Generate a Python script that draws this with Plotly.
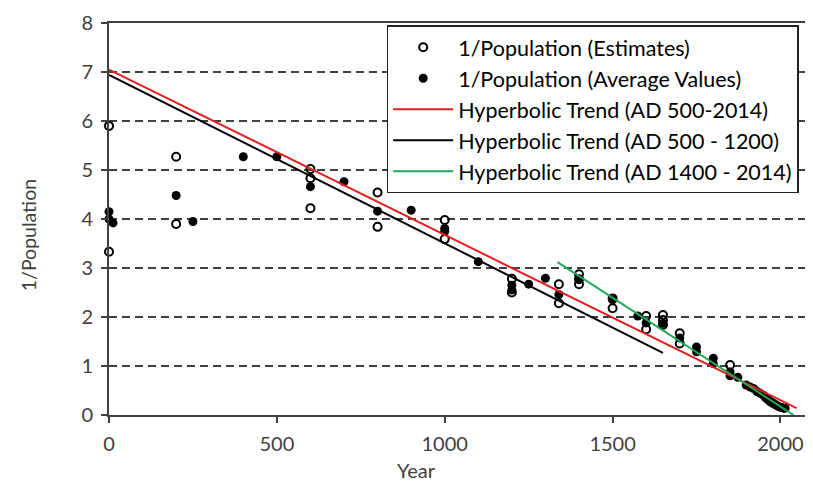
import plotly.graph_objects as go

# ---- data ----
est_year = [0, 0, 200, 200, 600, 600, 600, 800, 800, 1000, 1000, 1200, 1200,
            1340, 1340, 1400, 1400, 1400, 1500, 1500, 1600, 1600, 1650, 1650, 1650,
            1700, 1700, 1850]
est_val = [5.90, 3.33, 5.27, 3.90, 5.02, 4.83, 4.22, 4.54, 3.84, 3.98, 3.59, 2.78, 2.50,
           2.67, 2.28, 2.87, 2.77, 2.67, 2.38, 2.18, 2.02, 1.75, 2.04, 1.94, 1.84,
           1.67, 1.46, 1.02]

avg_year = [0, 0, 12, 200, 250, 400, 500, 600, 700, 800, 900, 1000, 1000, 1100,
            1200, 1200, 1250, 1300, 1340, 1400, 1500, 1575, 1600, 1650, 1700,
            1750, 1750, 1800, 1800, 1850, 1850, 1873, 1898,
            1910, 1920, 1930, 1940, 1950, 1955, 1960, 1965, 1970, 1975, 1980,
            1985, 1990, 1995, 2000, 2005, 2010, 2014]
avg_val = [4.15, 4.00, 3.92, 4.48, 3.95, 5.27, 5.27, 4.66, 4.76, 4.16, 4.18, 3.81, 3.75, 3.13,
           2.65, 2.55, 2.67, 2.79, 2.46, 2.77, 2.35, 2.02, 1.88, 1.87, 1.57,
           1.39, 1.29, 1.16, 1.05, 0.88, 0.80, 0.77, 0.61,
           0.57, 0.54, 0.48, 0.44, 0.40, 0.36, 0.33, 0.30, 0.27, 0.25, 0.23,
           0.21, 0.19, 0.17, 0.16, 0.15, 0.14, 0.14]

trend_all_x = [0, 2048]
trend_all_y = [7.05, 0.14]
trend_early_x = [0, 1650]
trend_early_y = [6.94, 1.27]
trend_late_x = [1336, 2039]
trend_late_y = [3.12, 0.0]

y_ticks = [0, 1, 2, 3, 4, 5, 6, 7, 8]
x_ticks = [0, 500, 1000, 1500, 2000]

x_title = "Year"
y_title = "1/Population"

FONT = "Lato"
AX = "#404040"

fig = go.Figure()
fig.add_trace(go.Scatter(x=est_year, y=est_val, mode="markers",
                         name="1/Population (Estimates)",
                         marker=dict(symbol="circle-open", size=8, color="black",
                                     line=dict(width=2, color="black")),
                         cliponaxis=False))
fig.add_trace(go.Scatter(x=avg_year, y=avg_val, mode="markers",
                         name="1/Population (Average Values)",
                         marker=dict(symbol="circle", size=9, color="black"),
                         cliponaxis=False))
fig.add_trace(go.Scatter(x=trend_all_x, y=trend_all_y, mode="lines",
                         name="Hyperbolic Trend (AD 500-2014)",
                         line=dict(color="#e0201e", width=2)))
fig.add_trace(go.Scatter(x=trend_early_x, y=trend_early_y, mode="lines",
                         name="Hyperbolic Trend (AD 500 - 1200)",
                         line=dict(color="black", width=2)))
fig.add_trace(go.Scatter(x=trend_late_x, y=trend_late_y, mode="lines",
                         name="Hyperbolic Trend (AD 1400 - 2014)",
                         line=dict(color="#21a85a", width=2)))

fig.update_layout(
    width=813, height=491,
    margin=dict(l=101, r=9, t=15, b=84, autoexpand=False),
    paper_bgcolor="white", plot_bgcolor="white",
    font=dict(family=FONT, size=20, color=AX),
    xaxis=dict(range=[0, 2094], tickvals=x_ticks, ticks="outside", ticklen=6,
               tickwidth=1.5, tickcolor=AX, showline=True, linecolor=AX, linewidth=2,
               mirror=True, showgrid=False, zeroline=False, automargin=False,
               ticklabelstandoff=4,
               tickfont=dict(size=20, color=AX)),
    yaxis=dict(range=[0, 8], tickvals=y_ticks, ticks="outside", ticklen=6,
               tickwidth=1.5, tickcolor=AX, showline=True, linecolor=AX, linewidth=2,
               mirror=True, showgrid=True, gridcolor="#404040", gridwidth=1.6,
               griddash="8px,5px", zeroline=False, automargin=False,
               ticklabelstandoff=4,
               tickfont=dict(size=20, color=AX)),
    xaxis2=dict(range=[0, 2094], overlaying="x", anchor="y", tickvals=x_ticks,
                ticks="inside", ticklen=6, tickwidth=1.5, tickcolor=AX, automargin=False,
                showticklabels=False, showgrid=False, zeroline=False, showline=False),
    yaxis2=dict(range=[0, 8], overlaying="y", anchor="x", tickvals=y_ticks,
                ticks="inside", ticklen=6, tickwidth=1.5, tickcolor=AX, mirror="ticks",
                automargin=False,
                showticklabels=False, showgrid=False, zeroline=False, showline=False),
    legend=dict(x=0.395, y=0.994, xanchor="left", yanchor="top",
                bgcolor="white", bordercolor="#222222", borderwidth=1.5,
                font=dict(family=FONT, size=21.5, color="black"),
                itemwidth=60, tracegroupgap=0),
    showlegend=True,
    annotations=[
        dict(text=x_title, xref="paper", yref="paper", x=0.438, y=-0.14,
             xanchor="center", yanchor="middle", showarrow=False,
             font=dict(family=FONT, size=20, color=AX)),
        dict(text=y_title, xref="paper", yref="paper", x=-0.115, y=0.459,
             xanchor="center", yanchor="middle", showarrow=False, textangle=-90,
             font=dict(family=FONT, size=19.5, color=AX)),
    ],
)

fig.write_html("out.html")
